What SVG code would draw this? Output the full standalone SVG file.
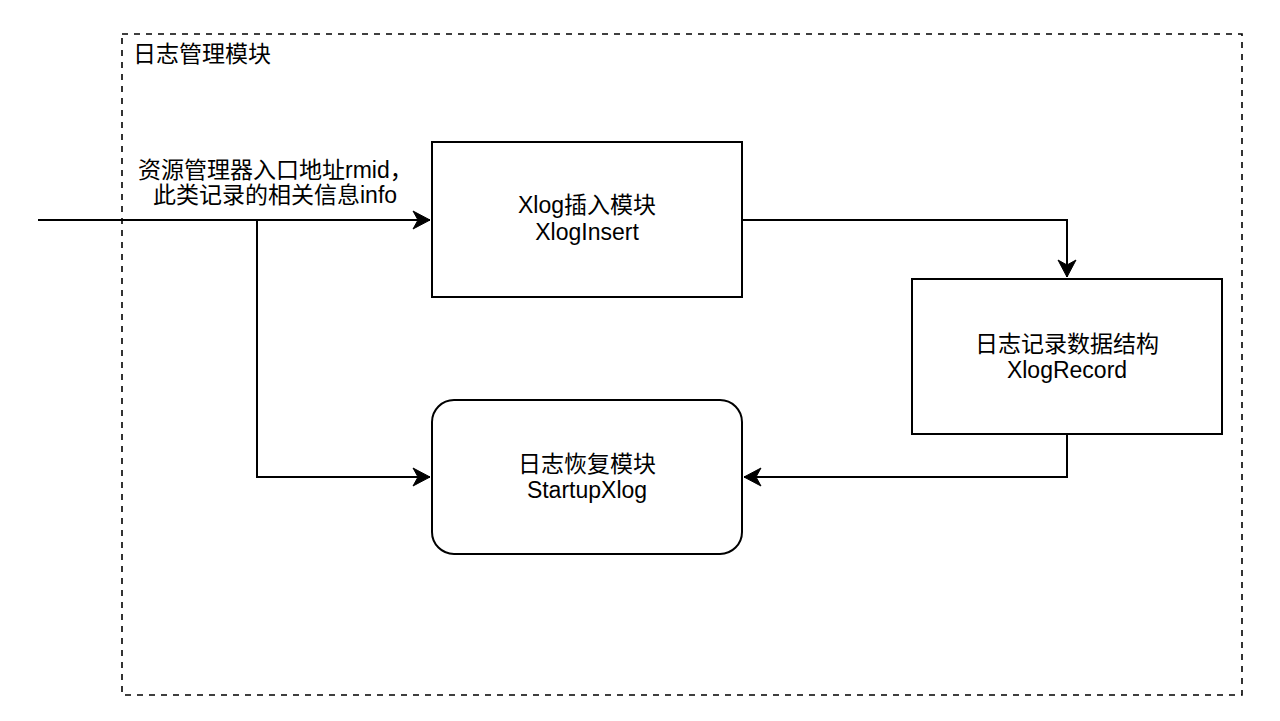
<svg xmlns="http://www.w3.org/2000/svg" width="1280" height="721" viewBox="0 0 1280 721">
<style>
text{font-family:"Liberation Sans","Noto Sans CJK SC",sans-serif;font-size:23px;fill:#000}
.box{fill:#fff;stroke:#000;stroke-width:2}
.edge{fill:none;stroke:#000;stroke-width:2}
</style>
<defs>
<marker id="arr" markerUnits="userSpaceOnUse" markerWidth="20" markerHeight="20" viewBox="-18 -10 20 20" refX="0" refY="0" orient="auto">
<path d="M0,0 L-17,-9 L-12,0 L-17,9 Z" fill="#000" stroke="#000" stroke-width="1"/>
</marker>
</defs>
<rect width="1280" height="721" fill="#fff"/>
<g id="frame">
<rect x="122" y="34" width="1120" height="661" fill="none" stroke="#000" stroke-width="1.6" stroke-dasharray="6 6"/>
<text x="133" y="62">日志管理模块</text>
</g>
<g id="connectors">
<path class="edge" d="M38,220 H430" marker-end="url(#arr)"/>
<path class="edge" d="M257,220 V477 H430" marker-end="url(#arr)"/>
<path class="edge" d="M742,220 H1067 V277" marker-end="url(#arr)"/>
<path class="edge" d="M1067,434 V477 H744" marker-end="url(#arr)"/>
<text x="138" y="178">资源管理器入口地址rmid，</text>
<text x="153" y="203">此类记录的相关信息info</text>
</g>
<g id="xloginsert">
<rect class="box" x="432" y="142" width="310" height="155"/>
<text x="587" y="213" text-anchor="middle">Xlog插入模块</text>
<text x="587" y="240" text-anchor="middle">XlogInsert</text>
</g>
<g id="xlogrecord">
<rect class="box" x="912" y="279" width="310" height="155"/>
<text x="1067" y="352" text-anchor="middle">日志记录数据结构</text>
<text x="1067" y="378" text-anchor="middle">XlogRecord</text>
</g>
<g id="startupxlog">
<rect class="box" x="432" y="400" width="310" height="154" rx="22" ry="22"/>
<text x="587" y="472" text-anchor="middle">日志恢复模块</text>
<text x="587" y="498" text-anchor="middle">StartupXlog</text>
</g>
</svg>
